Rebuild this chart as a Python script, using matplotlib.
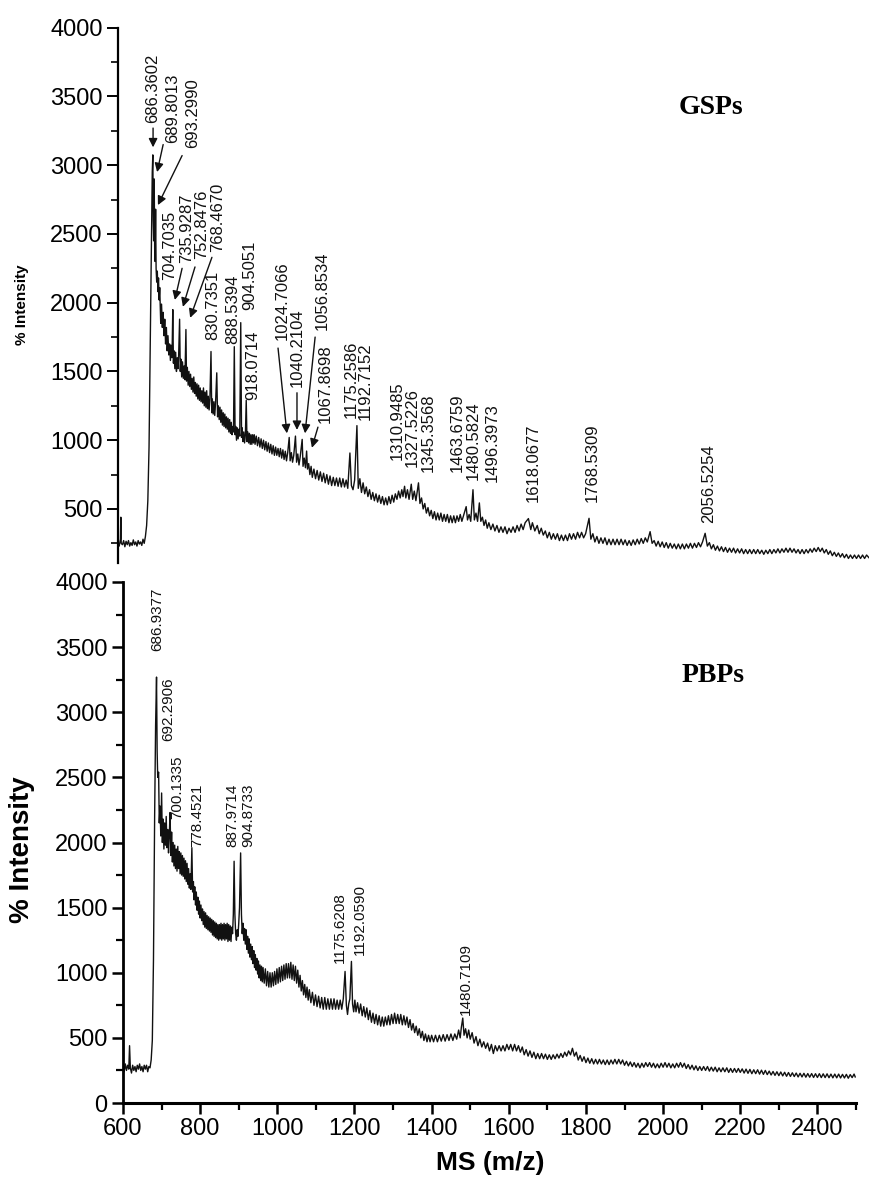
import numpy as np
import matplotlib.pyplot as plt
from matplotlib.ticker import MultipleLocator

plt.rcParams['font.family'] = ['Liberation Sans', 'DejaVu Sans']

# GSPs spectrum, (m/z, intensity)
gsp_points = [
    (600, 260), (603, 230), (606, 280), (607, 440), (608, 250), (611, 240), (614, 270), (617, 225),
    (620, 265), (623, 240), (626, 270), (629, 230), (632, 255), (635, 235), (638, 275), (641, 240),
    (644, 260), (647, 230), (650, 270), (653, 245), (656, 260), (659, 235), (662, 280), (665, 250),
    (668, 300), (671, 380), (674, 560), (677, 950), (680, 1700), (683, 2500), (685, 2950), (686.4, 3075),
    (687.5, 2600), (688.5, 2450), (689.8, 2900), (691, 2380), (692, 2300), (693.3, 2680), (694.5, 2250),
    (696, 2150), (697.5, 2230), (699, 2080), (700.5, 2180), (702, 2020), (703.5, 2110), (704.7, 1980),
    (706, 1850), (708, 1990), (710, 1820), (712, 1930), (714, 1760), (716, 1880), (718, 1700), (720, 1820),
    (722, 1650), (724, 1760), (726, 1620), (728, 1700), (730, 1580), (732, 1690), (734, 1600), (735.9, 1950),
    (737.5, 1560), (739, 1650), (741, 1520), (743, 1640), (745, 1500), (747, 1600), (749, 1520), (750.5, 1620),
    (752.8, 1880), (754.5, 1500), (756, 1590), (758, 1460), (760, 1570), (762, 1450), (764, 1540), (766, 1440),
    (768.5, 1805), (770, 1430), (772, 1530), (774, 1400), (776, 1500), (778, 1390), (780, 1480), (782, 1370),
    (784, 1450), (786, 1350), (788, 1460), (790, 1340), (792, 1420), (794, 1320), (796, 1410), (798, 1300),
    (800, 1400), (802, 1290), (804, 1380), (806, 1280), (808, 1360), (810, 1270), (812, 1380), (814, 1250),
    (816, 1350), (818, 1240), (820, 1360), (822, 1230), (824, 1320), (826, 1220), (828, 1300), (830.7, 1645),
    (832.5, 1200), (834, 1300), (836, 1190), (838, 1280), (840, 1180), (842, 1270), (845, 1490), (847, 1170),
    (849, 1250), (851, 1150), (853, 1240), (855, 1130), (857, 1220), (859, 1110), (861, 1200), (863, 1100),
    (865, 1190), (867, 1090), (869, 1170), (871, 1080), (873, 1160), (875, 1060), (877, 1150), (879, 1050),
    (881, 1130), (883, 1040), (885, 1100), (886.5, 1060), (888.5, 1680), (890.5, 1040), (892, 1100), (894, 1000),
    (896, 1090), (898, 1010), (900, 1080), (902, 1030), (904.5, 1855), (906.5, 1020), (908, 1090), (910, 990),
    (912, 1060), (914, 980), (916, 1040), (918.1, 1290), (920, 990), (922, 1060), (924, 980), (926, 1050),
    (928, 970), (930, 1040), (932, 970), (934, 1040), (936, 980), (938, 1040), (940, 970), (943, 1030),
    (946, 960), (949, 1020), (952, 950), (955, 1010), (958, 940), (961, 1000), (964, 930), (967, 990),
    (970, 920), (973, 980), (976, 910), (979, 970), (982, 900), (985, 960), (988, 890), (991, 950),
    (994, 890), (997, 940), (1000, 880), (1003, 940), (1006, 870), (1009, 930), (1012, 860), (1015, 920),
    (1018, 850), (1021, 910), (1024.7, 1020), (1027, 850), (1030, 910), (1033, 840), (1036, 890), (1040.2, 1030),
    (1043, 840), (1046, 900), (1049, 820), (1052, 880), (1056.9, 1006), (1059, 810), (1062, 870), (1065, 800),
    (1067.9, 921), (1070, 790), (1073, 830), (1076, 750), (1079, 810), (1082, 730), (1086, 790), (1090, 720),
    (1094, 780), (1098, 710), (1102, 770), (1106, 700), (1110, 760), (1114, 690), (1118, 750), (1122, 680),
    (1126, 740), (1130, 670), (1134, 730), (1138, 670), (1142, 725), (1146, 665), (1150, 725), (1154, 660),
    (1158, 720), (1162, 660), (1166, 710), (1170, 650), (1175.3, 907), (1179, 670), (1183, 640), (1187, 710),
    (1192.7, 1106), (1196, 650), (1200, 720), (1204, 620), (1208, 690), (1212, 610), (1216, 660), (1220, 590),
    (1224, 640), (1228, 570), (1232, 620), (1236, 560), (1240, 610), (1244, 550), (1248, 600), (1252, 540),
    (1256, 590), (1260, 530), (1264, 580), (1268, 530), (1272, 590), (1276, 540), (1280, 600), (1284, 550),
    (1288, 610), (1292, 570), (1296, 630), (1300, 580), (1304, 640), (1307, 590), (1310.9, 665), (1314, 580),
    (1318, 640), (1322, 570), (1327.5, 680), (1331, 570), (1335, 630), (1339, 560), (1345.4, 690), (1349, 540),
    (1353, 580), (1357, 500), (1361, 540), (1365, 470), (1369, 510), (1373, 450), (1377, 490), (1381, 430),
    (1385, 480), (1389, 420), (1393, 470), (1397, 420), (1401, 470), (1405, 410), (1409, 460), (1413, 410),
    (1417, 460), (1421, 400), (1425, 450), (1429, 400), (1433, 450), (1437, 400), (1441, 450), (1445, 410),
    (1449, 460), (1453, 410), (1457, 450), (1463.7, 517), (1467, 420), (1471, 460), (1475, 410), (1480.6, 640),
    (1484, 420), (1488, 470), (1492, 410), (1496.4, 544), (1500, 410), (1504, 440), (1508, 380), (1512, 420),
    (1516, 360), (1520, 400), (1525, 350), (1530, 390), (1535, 340), (1540, 380), (1545, 330), (1550, 370),
    (1555, 330), (1560, 370), (1565, 320), (1570, 360), (1575, 330), (1580, 370), (1585, 330), (1590, 380),
    (1595, 340), (1600, 390), (1605, 350), (1610, 400), (1618.1, 430), (1624, 350), (1628, 400), (1634, 340),
    (1640, 380), (1645, 320), (1650, 360), (1655, 310), (1660, 340), (1665, 290), (1670, 330), (1675, 280),
    (1680, 320), (1685, 280), (1690, 320), (1695, 270), (1700, 310), (1705, 270), (1710, 310), (1715, 270),
    (1720, 320), (1725, 280), (1730, 320), (1735, 280), (1740, 330), (1745, 290), (1750, 330), (1755, 290),
    (1760, 320), (1768.5, 432), (1773, 280), (1778, 320), (1783, 260), (1788, 300), (1793, 250), (1798, 290),
    (1803, 250), (1808, 290), (1813, 240), (1818, 280), (1823, 240), (1828, 280), (1833, 240), (1838, 280),
    (1843, 240), (1848, 280), (1853, 240), (1858, 275), (1863, 235), (1868, 270), (1873, 235), (1878, 275),
    (1883, 240), (1888, 280), (1893, 245), (1898, 285), (1903, 250), (1908, 290), (1913, 260), (1920, 335),
    (1925, 250), (1930, 270), (1935, 230), (1940, 265), (1945, 225), (1950, 260), (1955, 220), (1960, 255),
    (1965, 215), (1970, 250), (1975, 215), (1980, 245), (1985, 210), (1990, 245), (1995, 210), (2000, 245),
    (2005, 210), (2010, 245), (2015, 215), (2020, 250), (2025, 215), (2030, 250), (2035, 220), (2040, 255),
    (2045, 225), (2050, 260), (2056.5, 323), (2062, 230), (2067, 255), (2072, 210), (2077, 240), (2082, 200),
    (2087, 230), (2092, 195), (2097, 225), (2102, 190), (2107, 220), (2112, 185), (2117, 215), (2122, 185),
    (2127, 215), (2132, 180), (2137, 210), (2142, 180), (2147, 210), (2152, 175), (2157, 205), (2162, 175),
    (2167, 205), (2172, 175), (2177, 205), (2182, 175), (2187, 205), (2192, 175), (2197, 200), (2202, 170),
    (2207, 200), (2212, 175), (2217, 205), (2222, 175), (2227, 205), (2232, 180), (2237, 210), (2242, 180),
    (2247, 210), (2252, 185), (2257, 215), (2262, 185), (2267, 215), (2272, 185), (2277, 210), (2282, 180),
    (2287, 205), (2292, 175), (2297, 205), (2302, 175), (2307, 205), (2312, 180), (2317, 210), (2322, 185),
    (2327, 215), (2332, 190), (2337, 220), (2342, 190), (2347, 215), (2352, 180), (2357, 205), (2362, 170),
    (2367, 195), (2372, 160), (2377, 185), (2382, 155), (2387, 180), (2392, 150), (2397, 175), (2402, 145),
    (2407, 170), (2412, 140), (2417, 165), (2422, 140), (2427, 165), (2432, 140), (2437, 165), (2442, 140),
    (2447, 165), (2452, 140), (2457, 165), (2463, 145),
]

# PBPs spectrum, (m/z, intensity)
pbp_points = [
    (600, 270), (603, 240), (606, 300), (609, 250), (612, 290), (615, 260), (617, 440), (619, 270),
    (622, 230), (625, 290), (628, 250), (631, 280), (634, 240), (637, 290), (640, 260), (643, 300),
    (646, 250), (649, 280), (652, 240), (655, 290), (658, 260), (661, 290), (664, 240), (667, 280),
    (670, 270), (673, 330), (676, 480), (679, 1100), (682, 2200), (684.5, 2900), (686.9, 3270), (688.5, 2700),
    (690, 2500), (692.3, 2540), (694, 2150), (696, 2280), (698, 2050), (700.1, 2380), (702, 2000), (704, 2180),
    (706, 1950), (708, 2150), (710, 1980), (712, 2200), (714, 1960), (716, 2100), (718, 1920), (720, 2060),
    (722, 2230), (724, 1900), (726, 2080), (728, 1850), (730, 2000), (732, 1820), (734, 1980), (736, 1800),
    (738, 1950), (740, 1780), (742, 1970), (744, 1800), (746, 1930), (748, 1760), (750, 1920), (752, 1750),
    (754, 1900), (756, 1740), (758, 1880), (760, 1720), (762, 1860), (764, 1700), (766, 1840), (768, 1680),
    (770, 1800), (772, 1650), (774, 1760), (776, 1640), (778.5, 1960), (780.5, 1620), (782.5, 1700), (784, 1560),
    (786, 1660), (788, 1520), (790, 1620), (792, 1480), (794, 1580), (796, 1450), (798, 1550), (800, 1420),
    (802, 1520), (804, 1400), (806, 1490), (808, 1370), (810, 1470), (812, 1350), (814, 1460), (816, 1340),
    (818, 1440), (820, 1330), (822, 1430), (824, 1320), (826, 1420), (828, 1310), (830, 1410), (832, 1290),
    (834, 1400), (836, 1280), (838, 1390), (840, 1270), (842, 1380), (844, 1260), (846, 1370), (848, 1250),
    (850, 1370), (852, 1260), (854, 1380), (856, 1250), (858, 1370), (860, 1260), (862, 1380), (864, 1250),
    (866, 1370), (868, 1260), (870, 1380), (872, 1240), (874, 1370), (876, 1250), (878, 1360), (880, 1240),
    (882, 1350), (884, 1300), (886, 1450), (888, 1856), (890, 1450), (892, 1300), (894, 1250), (896, 1330),
    (898, 1280), (900, 1380), (902, 1500), (904.9, 1920), (907, 1450), (909, 1300), (911, 1380), (913, 1250),
    (915, 1340), (917, 1220), (919, 1330), (921, 1180), (923, 1280), (925, 1150), (927, 1260), (929, 1120),
    (931, 1220), (933, 1100), (935, 1200), (937, 1070), (939, 1170), (941, 1040), (943, 1140), (945, 1020),
    (947, 1110), (949, 990), (951, 1090), (953, 960), (955, 1060), (957, 940), (959, 1050), (961, 930),
    (963, 1040), (966, 920), (969, 1030), (972, 900), (975, 1010), (978, 890), (981, 1000), (984, 890),
    (987, 1000), (990, 900), (993, 1010), (996, 910), (999, 1030), (1002, 920), (1005, 1040), (1008, 930),
    (1011, 1050), (1014, 940), (1017, 1060), (1020, 950), (1023, 1070), (1026, 960), (1029, 1070), (1032, 960),
    (1035, 1080), (1038, 950), (1041, 1060), (1044, 940), (1047, 1050), (1050, 920), (1053, 1020), (1056, 890),
    (1059, 980), (1062, 860), (1065, 940), (1068, 830), (1071, 910), (1074, 810), (1077, 890), (1080, 790),
    (1083, 870), (1087, 770), (1091, 850), (1095, 750), (1099, 830), (1103, 740), (1107, 820), (1111, 730),
    (1115, 810), (1119, 720), (1123, 810), (1127, 720), (1131, 800), (1135, 720), (1139, 800), (1143, 720),
    (1147, 800), (1151, 720), (1155, 790), (1159, 720), (1163, 790), (1167, 720), (1171, 800), (1175.6, 1010),
    (1179, 750), (1182, 680), (1185, 760), (1188, 800), (1192.1, 1087), (1195, 760), (1198, 700), (1201, 790),
    (1204, 700), (1208, 770), (1212, 690), (1216, 760), (1220, 670), (1224, 740), (1228, 660), (1232, 730),
    (1236, 640), (1240, 710), (1244, 620), (1248, 690), (1252, 610), (1256, 680), (1260, 600), (1264, 670),
    (1268, 590), (1272, 660), (1276, 590), (1280, 660), (1284, 600), (1288, 670), (1292, 600), (1296, 680),
    (1300, 610), (1304, 690), (1308, 610), (1312, 680), (1316, 610), (1320, 680), (1324, 600), (1328, 670),
    (1332, 600), (1336, 660), (1340, 580), (1344, 640), (1348, 560), (1352, 610), (1356, 540), (1360, 590),
    (1364, 520), (1368, 570), (1372, 500), (1376, 550), (1380, 480), (1384, 530), (1388, 470), (1392, 520),
    (1396, 470), (1400, 520), (1405, 470), (1410, 520), (1415, 470), (1420, 520), (1425, 475), (1430, 525),
    (1435, 475), (1440, 525), (1445, 480), (1450, 530), (1455, 480), (1460, 530), (1465, 490), (1470, 560),
    (1474, 500), (1477, 580), (1480.7, 652), (1484, 520), (1488, 570), (1492, 500), (1496, 560), (1500, 490),
    (1505, 540), (1510, 460), (1515, 510), (1520, 440), (1525, 490), (1530, 430), (1535, 470), (1540, 420),
    (1545, 460), (1550, 400), (1555, 450), (1560, 380), (1565, 440), (1570, 400), (1575, 440), (1580, 400),
    (1585, 440), (1590, 400), (1595, 450), (1600, 410), (1605, 450), (1610, 400), (1615, 450), (1620, 400),
    (1625, 440), (1630, 390), (1635, 430), (1640, 370), (1645, 410), (1650, 360), (1655, 400), (1660, 350),
    (1665, 390), (1670, 340), (1675, 380), (1680, 340), (1685, 380), (1690, 340), (1695, 375), (1700, 335),
    (1705, 370), (1710, 335), (1715, 370), (1720, 340), (1725, 375), (1730, 345), (1735, 380), (1740, 350),
    (1745, 390), (1750, 360), (1755, 400), (1760, 370), (1765, 420), (1770, 360), (1775, 390), (1780, 330),
    (1785, 365), (1790, 320), (1795, 355), (1800, 310), (1805, 345), (1810, 305), (1815, 340), (1820, 300),
    (1825, 335), (1830, 300), (1835, 335), (1840, 300), (1845, 330), (1850, 295), (1855, 330), (1860, 295),
    (1865, 330), (1870, 300), (1875, 335), (1880, 300), (1885, 335), (1890, 300), (1895, 330), (1900, 290),
    (1905, 320), (1910, 285), (1915, 315), (1920, 280), (1925, 310), (1930, 275), (1935, 305), (1940, 270),
    (1945, 305), (1950, 275), (1955, 310), (1960, 280), (1965, 310), (1970, 275), (1975, 305), (1980, 270),
    (1985, 300), (1990, 270), (1995, 305), (2000, 275), (2005, 310), (2010, 275), (2015, 305), (2020, 270),
    (2025, 300), (2030, 270), (2035, 305), (2040, 275), (2045, 310), (2050, 275), (2055, 305), (2060, 265),
    (2065, 295), (2070, 260), (2075, 290), (2080, 255), (2085, 285), (2090, 250), (2095, 280), (2100, 250),
    (2105, 280), (2110, 250), (2115, 280), (2120, 245), (2125, 275), (2130, 245), (2135, 275), (2140, 240),
    (2145, 270), (2150, 240), (2155, 270), (2160, 240), (2165, 270), (2170, 235), (2175, 265), (2180, 235),
    (2185, 265), (2190, 235), (2195, 265), (2200, 235), (2205, 262), (2210, 230), (2215, 260), (2220, 228),
    (2225, 258), (2230, 225), (2235, 255), (2240, 225), (2245, 255), (2250, 222), (2255, 252), (2260, 220),
    (2265, 250), (2270, 218), (2275, 245), (2280, 215), (2285, 242), (2290, 212), (2295, 240), (2300, 210),
    (2305, 238), (2310, 208), (2315, 236), (2320, 205), (2325, 234), (2330, 204), (2335, 232), (2340, 203),
    (2345, 230), (2350, 200), (2355, 228), (2360, 200), (2365, 228), (2370, 198), (2375, 226), (2380, 198),
    (2385, 226), (2390, 196), (2395, 225), (2400, 196), (2405, 225), (2410, 195), (2415, 224), (2420, 195),
    (2425, 224), (2430, 194), (2435, 222), (2440, 193), (2445, 222), (2450, 193), (2455, 222), (2460, 192),
    (2465, 220), (2470, 192), (2475, 220), (2480, 190), (2485, 218), (2490, 195), (2495, 222), (2498, 200),
]

# peak labels
gsp_labels = ['686.3602', '689.8013', '693.2990', '704.7035', '735.9287', '752.8476', '768.4670',
              '830.7351', '888.5394', '904.5051', '918.0714', '1024.7066', '1040.2104', '1056.8534',
              '1067.8698', '1175.2586', '1192.7152', '1310.9485', '1327.5226', '1345.3568',
              '1463.6759', '1480.5824', '1496.3973', '1618.0677', '1768.5309', '2056.5254']
pbp_labels = ['686.9377', '692.2906', '700.1335', '778.4521', '887.9714', '904.8733',
              '1175.6208', '1192.0590', '1480.7109']

# where the label texts sit (m/z of text centre, intensity at text bottom)
gsp_text_x = [687, 736, 786, 729, 769, 808, 848, 836, 885, 928, 935, 1007, 1044, 1106,
              1114, 1178, 1213, 1292, 1330, 1369, 1441, 1481, 1528, 1630, 1776, 2064]
gsp_text_y = [3310, 3165, 3125, 2165, 2290, 2320, 2370, 1729, 1700, 1947, 1293, 1729, 1387, 1802,
              1125, 1162, 1147, 856, 805, 769, 769, 711, 696, 551, 551, 398]
# arrows: label index -> (start m/z, start int, tip m/z, tip int)
gsp_arrows = {
    0: (687, 3270, 687, 3130),
    1: (712, 3150, 697, 2950),
    2: (759, 3070, 699, 2710),
    4: (759, 2250, 741, 2020),
    5: (791, 2260, 761, 1970),
    6: (833, 2330, 779, 1890),
    11: (997, 1670, 1019, 1050),
    12: (1044, 1345, 1044, 1075),
    13: (1089, 1750, 1064, 1050),
    14: (1096, 1095, 1081, 945),
}
pbp_text_x = [688, 717, 740, 792, 883, 924, 1163, 1215, 1489]
pbp_text_y = [3470, 2777, 2177, 1962, 1962, 1962, 1077, 1138, 677]

fig = plt.figure(figsize=(8.69, 11.78), dpi=100)
W, H = 869.0, 1178.0

# upper panel (GSPs): only the left axis is drawn, bottom runs into the lower panel
ax1 = fig.add_axes([118 / W, 1 - 563 / H, 751 / W, (563 - 27.7) / H])
mz1, int1 = zip(*gsp_points)
ax1.plot(mz1, int1, color='#111111', lw=1.0)
ax1.set_xlim(600, 2463)
ax1.set_ylim(107, 4000)
for s in ['top', 'right', 'bottom']:
    ax1.spines[s].set_visible(False)
ax1.spines['left'].set_linewidth(1.6)
ax1.set_xticks([])
ax1.yaxis.set_major_locator(MultipleLocator(500))
ax1.yaxis.set_minor_locator(MultipleLocator(250))
ax1.set_yticks([500, 1000, 1500, 2000, 2500, 3000, 3500, 4000])
ax1.tick_params(axis='y', which='major', direction='out', length=8, width=1.4, labelsize=17, pad=3)
ax1.tick_params(axis='y', which='minor', direction='out', length=5, width=1.2)

for i, lab in enumerate(gsp_labels):
    ax1.text(gsp_text_x[i], gsp_text_y[i], lab, rotation=90, ha='center', va='bottom',
             fontsize=12, color='#111111')
for i, (x0, y0, x1, y1) in gsp_arrows.items():
    ax1.annotate('', xy=(x1, y1), xytext=(x0, y0),
                 arrowprops=dict(arrowstyle='-|>', color='#111111', lw=1.0,
                                 mutation_scale=13, shrinkA=0, shrinkB=0))

# lower panel (PBPs)
ax2 = fig.add_axes([123 / W, 1 - 1103 / H, 733 / W, (1103 - 582) / H])
mz2, int2 = zip(*pbp_points)
ax2.plot(mz2, int2, color='#111111', lw=1.0)
ax2.set_xlim(600, 2500)
ax2.set_ylim(0, 4000)
ax2.spines['top'].set_visible(False)
ax2.spines['right'].set_visible(False)
ax2.spines['left'].set_linewidth(2)
ax2.spines['bottom'].set_linewidth(2.2)
ax2.xaxis.set_major_locator(MultipleLocator(200))
ax2.xaxis.set_minor_locator(MultipleLocator(100))
ax2.yaxis.set_major_locator(MultipleLocator(500))
ax2.yaxis.set_minor_locator(MultipleLocator(250))
ax2.set_xticks(np.arange(600, 2401, 200))
ax2.tick_params(which='major', direction='out', length=8, width=1.8, labelsize=17, pad=3)
ax2.tick_params(which='minor', direction='out', length=5, width=1.6)

for i, lab in enumerate(pbp_labels):
    ax2.text(pbp_text_x[i], pbp_text_y[i], lab, rotation=90, ha='center', va='bottom',
             fontsize=11, color='#111111')

# panel names and axis titles
fig.text(711 / W, 1 - 108 / H, 'GSPs', family='Liberation Serif', fontweight='bold',
         fontsize=20, ha='center', va='center')
fig.text(713 / W, 1 - 675 / H, 'PBPs', family='Liberation Serif', fontweight='bold',
         fontsize=20, ha='center', va='center')
fig.text(22 / W, 1 - 305 / H, '% Intensity', rotation=90, fontsize=11, fontweight='bold',
         ha='center', va='center')
fig.text(22 / W, 1 - 850 / H, '% Intensity', rotation=90, fontsize=20, fontweight='bold',
         ha='center', va='center')
fig.text(490 / W, 1 - 1163 / H, 'MS (m/z)', fontsize=19, fontweight='bold',
         ha='center', va='center')

fig.savefig('out.png', dpi=100)
